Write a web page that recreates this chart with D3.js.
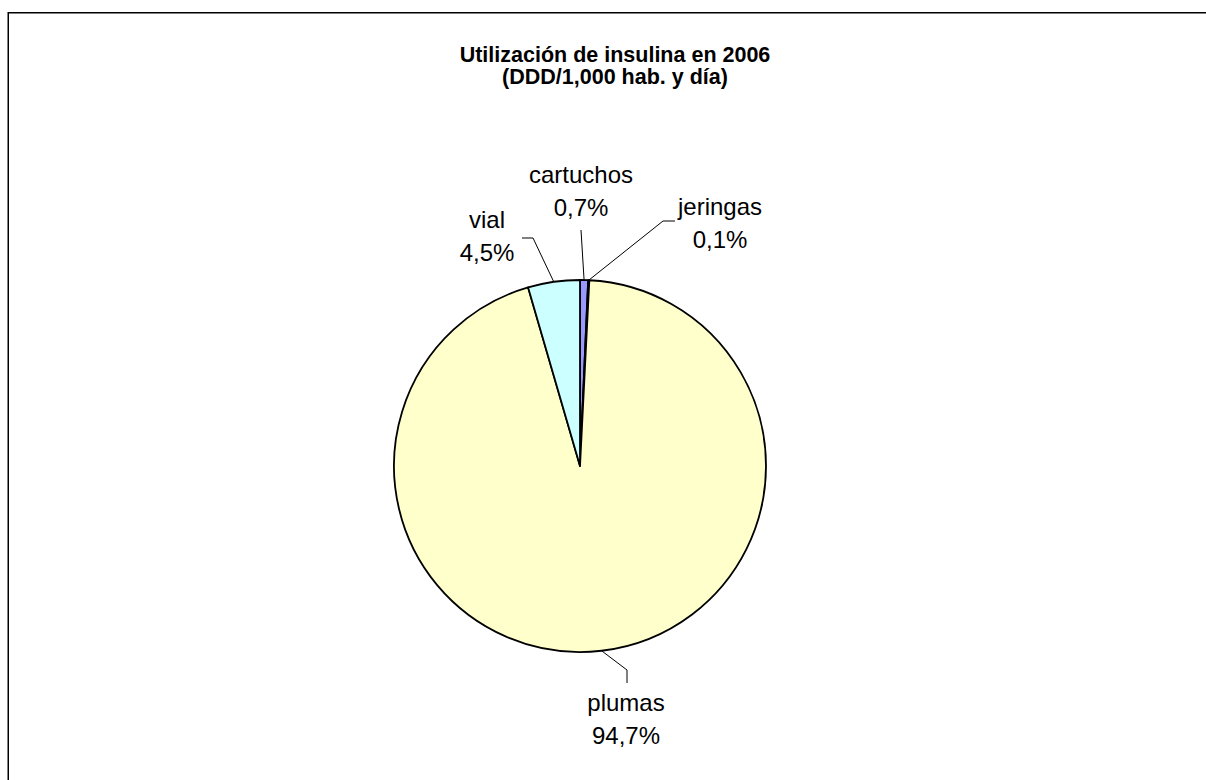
<!DOCTYPE html>
<html><head><meta charset="utf-8">
<script src="https://cdn.jsdelivr.net/npm/d3@7"></script>
<style>body{margin:0;background:#fff}svg{display:block}</style>
</head><body>
<svg id="c" width="1206" height="780"></svg>
<script>
const categories = ["cartuchos", "jeringas", "plumas", "vial"];
const values = [0.7, 0.1, 94.7, 4.5];
const valueLabels = ["0,7%", "0,1%", "94,7%", "4,5%"];
const colors = ["#9999FF", "#993366", "#FFFFCC", "#CCFFFF"];
const titleLines = ["Utilización de insulina en 2006", "(DDD/1,000 hab. y día)"];

// label layout (annotation placement)
const labelLayout = [
  {x: 581, y: 183, leader: [[581, 230]]},
  {x: 720, y: 215, leader: [[663, 221], [675, 221]]},
  {x: 626, y: 711, leader: [[627, 670], [627, 683]]},
  {x: 487, y: 228, leader: [[533, 238], [522, 238]]}
];

const svg = d3.select("#c");
svg.append("rect").attr("x", 8.25).attr("y", 12.75).attr("width", 1400).attr("height", 1000)
  .attr("fill", "#fff").attr("stroke", "#000").attr("stroke-width", 1.5);

const cx = 580, cy = 466, r = 186;
const g = svg.append("g").attr("transform", `translate(${cx},${cy})`);
const pie = d3.pie().sort(null).value(d => d)(values);
const arc = d3.arc().innerRadius(0).outerRadius(r);
const arcEdge = d3.arc().innerRadius(r).outerRadius(r);

g.selectAll("path.slice").data(pie).join("path")
  .attr("class", "slice")
  .attr("d", arc)
  .attr("fill", (d, i) => colors[i])
  .attr("stroke", "#000").attr("stroke-width", 1.8).attr("stroke-linejoin", "round");

// leaders
pie.forEach((d, i) => {
  const c = arcEdge.centroid(d);
  const pts = [[cx + c[0], cy + c[1]]].concat(labelLayout[i].leader);
  svg.append("path").attr("d", d3.line()(pts))
    .attr("fill", "none").attr("stroke", "#000").attr("stroke-width", 1);
});

// labels
pie.forEach((d, i) => {
  const L = labelLayout[i];
  const t = svg.append("text").attr("text-anchor", "middle")
    .attr("font-family", "Liberation Sans, Arial, sans-serif").attr("font-size", 24).attr("fill", "#000");
  t.append("tspan").attr("x", L.x).attr("y", L.y).text(categories[i]);
  t.append("tspan").attr("x", L.x).attr("y", L.y + 33).text(valueLabels[i]);
});

// title
const tt = svg.append("text").attr("text-anchor", "middle")
  .attr("font-family", "Liberation Sans, Arial, sans-serif").attr("font-weight", "bold")
  .attr("font-size", 21.5).attr("fill", "#000");
titleLines.forEach((s, i) => tt.append("tspan").attr("x", 615).attr("y", 62 + i * 22).text(s));
</script>
</body></html>
